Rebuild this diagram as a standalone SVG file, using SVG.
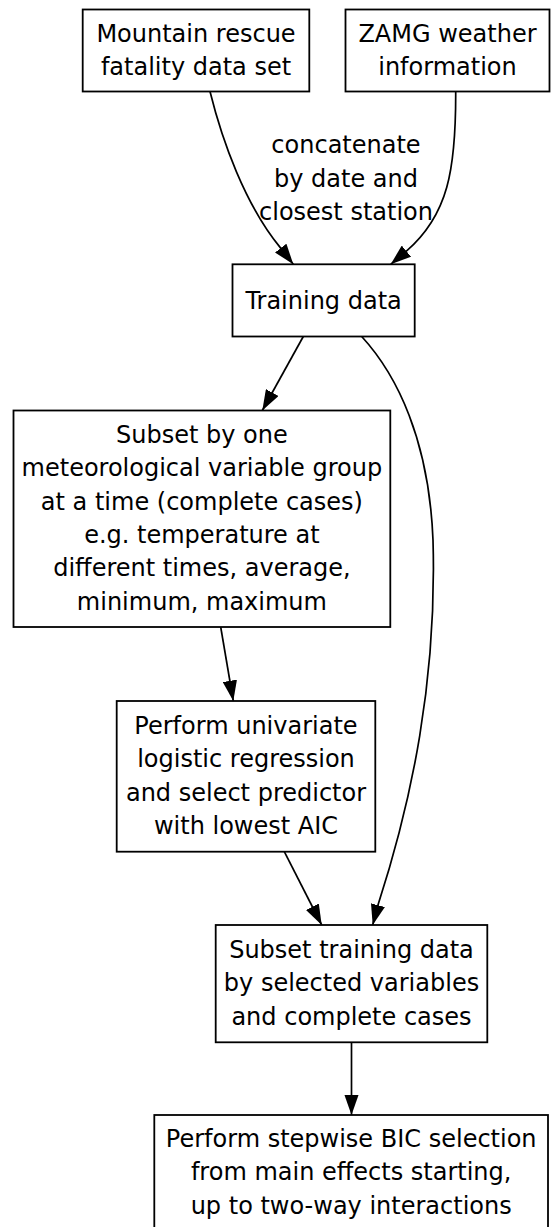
<svg xmlns="http://www.w3.org/2000/svg" width="551" height="1227" viewBox="0 0 551 1227">
  <style>
    .node rect { fill: #ffffff; stroke: #000000; stroke-width: 1.8; }
    .node text, .label text { font-family: "DejaVu Sans", Verdana, sans-serif; font-size: 24px; fill: #000000; text-anchor: middle; }
    .edge { fill: none; stroke: #000000; stroke-width: 1.7; marker-end: url(#arrow); }
  </style>
  <defs>
    <!-- filled triangular arrowhead; tip sits at the end of the path -->
    <marker id="arrow" markerUnits="userSpaceOnUse" viewBox="0 0 20.5 14.4" refX="20.5" refY="7.2" markerWidth="20.5" markerHeight="14.4" orient="auto">
      <path d="M0,0 L20.5,7.2 L0,14.4 z" fill="#000000"/>
    </marker>
  </defs>
  <rect x="0" y="0" width="551" height="1227" fill="#ffffff"/>

  <g id="connectors">
    <path class="edge" d="M210,91.5 C222,140 245,205 280.7,248.1 L293.3,264.3"/>
    <path class="edge" d="M455.7,91.5 C456,170 448,215 406.4,251.1 L390.7,264.3"/>
    <g class="label">
      <text x="346" y="153.3">concatenate</text>
      <text x="346" y="186.7">by date and</text>
      <text x="346" y="220">closest station</text>
    </g>
    <path class="edge" d="M303.3,336.5 L262.3,410.5"/>
    <path class="edge" d="M361.7,336.5 C397,375 429,440 433,540 C437,680 412,800 378,905 L372.7,925"/>
    <path class="edge" d="M220.7,627 L233.3,701"/>
    <path class="edge" d="M284.3,851.7 L321.7,925"/>
    <path class="edge" d="M351.5,1042.3 L351.5,1115"/>
  </g>

  <g id="mountain-rescue" class="node">
    <rect x="82.7" y="9.5" width="226.6" height="82"/>
    <text x="196" y="42">Mountain rescue</text>
    <text x="196" y="75.3">fatality data set</text>
  </g>

  <g id="zamg-weather" class="node">
    <rect x="345.5" y="9.5" width="204" height="82"/>
    <text x="447.5" y="42">ZAMG weather</text>
    <text x="447.5" y="75.3">information</text>
  </g>

  <g id="training-data" class="node">
    <rect x="232.5" y="264.3" width="182.2" height="72.2"/>
    <text x="323.6" y="308.6">Training data</text>
  </g>

  <g id="subset-by-group" class="node">
    <rect x="13.5" y="410.5" width="376.8" height="216.5"/>
    <text x="201.9" y="443">Subset by one</text>
    <text x="201.9" y="476.3">meteorological variable group</text>
    <text x="201.9" y="509.6">at a time (complete cases)</text>
    <text x="201.9" y="542.9">e.g. temperature at</text>
    <text x="201.9" y="576.2">different times, average,</text>
    <text x="201.9" y="609.5">minimum, maximum</text>
  </g>

  <g id="univariate-regression" class="node">
    <rect x="116.7" y="701" width="258.6" height="150.7"/>
    <text x="246" y="734">Perform univariate</text>
    <text x="246" y="767.3">logistic regression</text>
    <text x="246" y="800.6">and select predictor</text>
    <text x="246" y="833.9">with lowest AIC</text>
  </g>

  <g id="subset-training" class="node">
    <rect x="215.7" y="925" width="271.6" height="117.3"/>
    <text x="351.5" y="958">Subset training data</text>
    <text x="351.5" y="991.4">by selected variables</text>
    <text x="351.5" y="1024.8">and complete cases</text>
  </g>

  <g id="stepwise-bic" class="node">
    <rect x="154.3" y="1115" width="393.7" height="117.3"/>
    <text x="351.2" y="1147">Perform stepwise BIC selection</text>
    <text x="351.2" y="1180.3">from main effects starting,</text>
    <text x="351.2" y="1213.6">up to two-way interactions</text>
  </g>
</svg>
